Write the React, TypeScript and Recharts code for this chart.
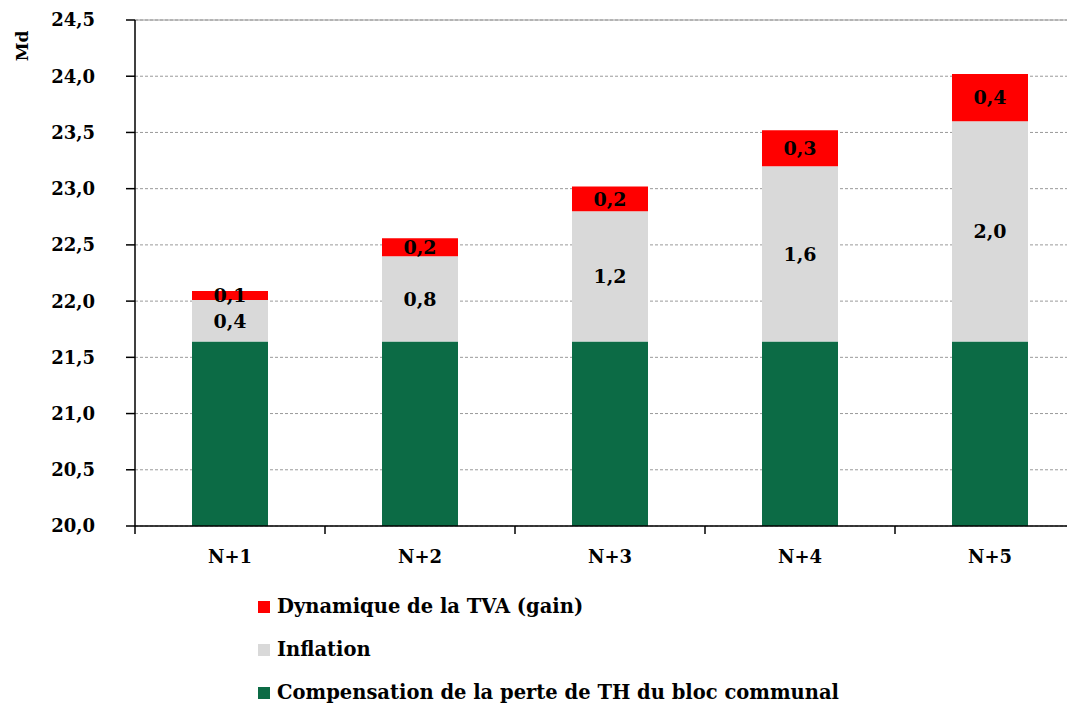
import React from 'react';
import { BarChart, Bar, XAxis, YAxis, CartesianGrid, Legend, LabelList, ReferenceLine } from 'recharts';

const categories = ['N+1', 'N+2', 'N+3', 'N+4', 'N+5'];
const compensation = [21.64, 21.64, 21.64, 21.64, 21.64];
const inflation = [0.37, 0.76, 1.16, 1.56, 1.96];
const tva = [0.08, 0.16, 0.22, 0.32, 0.42];
const yTicks = [20, 20.5, 21, 21.5, 22, 22.5, 23, 23.5, 24, 24.5];
const seriesNames = {
  compensation: 'Compensation de la perte de TH du bloc communal',
  inflation: 'Inflation',
  tva: 'Dynamique de la TVA (gain)',
};
const legendOrder = ['tva', 'inflation', 'compensation'];
const unitLabel = 'Md';

const COLORS = { compensation: '#0C6B45', inflation: '#D9D9D9', tva: '#FF0000' };
const FONT = '"DejaVu Serif", serif';

const data = categories.map((c, i) => ({
  name: c,
  compensation: compensation[i],
  inflation: inflation[i],
  tva: tva[i],
}));

const fmt = (v: number) => Number(v).toFixed(1).replace('.', ',');

const XTick = (props: any) => {
  const { x, y, payload, index, visibleTicksCount, width } = props;
  const half = payload && payload.offset ? payload.offset : width / visibleTicksCount / 2;
  return (
    <g>
      <line x1={x - half} x2={x - half} y1={y - 8} y2={y} stroke="#000" strokeWidth={1.5} />
      {index === visibleTicksCount - 1 && (
        <line x1={x + half} x2={x + half} y1={y - 8} y2={y} stroke="#000" strokeWidth={1.5} />
      )}
      <text x={x} y={y + 29} textAnchor="middle" fontFamily={FONT} fontWeight="bold" fontSize={18} fill="#000">
        {payload.value}
      </text>
    </g>
  );
};

const LegendContent = (props: any) => {
  const payload = props.payload || [];
  const items = legendOrder
    .map((k) => payload.find((p: any) => p.dataKey === k))
    .filter(Boolean);
  return (
    <div style={{ paddingLeft: 250, height: 130, boxSizing: 'border-box', paddingTop: 11 }}>
      {items.map((it: any) => (
        <div key={it.dataKey} style={{ display: 'flex', alignItems: 'center', height: 43 }}>
          <span style={{ display: 'inline-block', width: 12, height: 12, background: it.color, marginRight: 7 }} />
          <span style={{ fontFamily: FONT, fontWeight: 'bold', fontSize: 19.5, color: '#000', whiteSpace: 'nowrap' }}>{it.value}</span>
        </div>
      ))}
    </div>
  );
};

const MdLabel = (props: any) => {
  const vb = props.viewBox || { x: 0, y: 0 };
  const cx = vb.x + 14;
  const cy = vb.y + 26;
  return (
    <text x={cx} y={cy} transform={`rotate(-90 ${cx} ${cy})`} textAnchor="middle" dominantBaseline="central"
      fontFamily={FONT} fontWeight="bold" fontSize={17} fill="#000">
      {unitLabel}
    </text>
  );
};

export default function App() {
  return (
    <BarChart
      width={1090}
      height={696}
      data={data}
      margin={{ top: 12, right: 13, bottom: 0, left: 0 }}
      barSize={76}
    >
      <CartesianGrid vertical={false} stroke="#9A9A9A" strokeDasharray="3 2" />
      <ReferenceLine y={24.5} stroke="#9A9A9A" strokeWidth={1} />
      <XAxis
        dataKey="name"
        height={48}
        axisLine={{ stroke: '#000', strokeWidth: 1.5 }}
        tickLine={false}
        tick={<XTick />}
        interval={0}
      />
      <YAxis
        width={127}
        domain={[20, 24.5]}
        ticks={yTicks}
        allowDataOverflow
        tickFormatter={fmt}
        axisLine={{ stroke: '#000', strokeWidth: 1.5 }}
        tickLine={{ stroke: '#000', strokeWidth: 1.5 }}
        tickSize={9}
        tickMargin={31}
        tick={{ fontFamily: FONT, fontWeight: 'bold', fontSize: 18, fill: '#000' }}
        label={<MdLabel />}
      />
      <Legend
        verticalAlign="bottom"
        align="left"
        layout="horizontal"
        wrapperStyle={{ left: 0, bottom: 0, width: 1077 }}
        content={<LegendContent />}
      />
      <Bar dataKey="compensation" name={seriesNames.compensation} stackId="a" fill={COLORS.compensation} isAnimationActive={false} />
      <Bar dataKey="inflation" name={seriesNames.inflation} stackId="a" fill={COLORS.inflation} isAnimationActive={false}>
        <LabelList dataKey="inflation" position="center" formatter={fmt} fontFamily={FONT} fontWeight="bold" fontSize={19} fill="#000" />
      </Bar>
      <Bar dataKey="tva" name={seriesNames.tva} stackId="a" fill={COLORS.tva} isAnimationActive={false}>
        <LabelList dataKey="tva" position="center" formatter={fmt} fontFamily={FONT} fontWeight="bold" fontSize={19} fill="#000" />
      </Bar>
    </BarChart>
  );
}
